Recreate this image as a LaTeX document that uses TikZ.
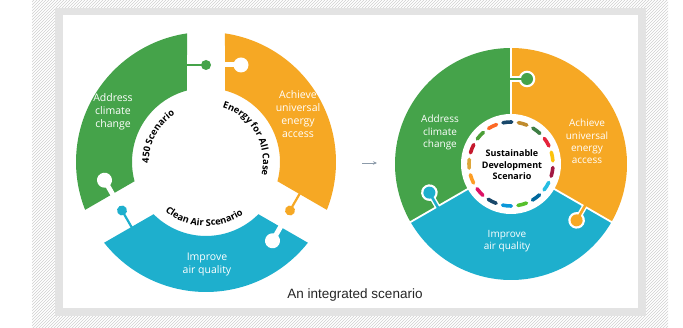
\documentclass[tikz,border=0pt]{standalone}
\usepackage{fontspec}
\setmainfont{Open Sans}
\newfontfamily\capfont{Liberation Sans}
\usetikzlibrary{patterns,decorations.text,arrows.meta}

\definecolor{goalgreen}{HTML}{45A34A}
\definecolor{goalorange}{HTML}{F6A824}
\definecolor{goalblue}{HTML}{1EAFCD}
\definecolor{framegray}{HTML}{E3E3E3}
\definecolor{hatchgray}{HTML}{CFCFCF}
\definecolor{arrowgray}{HTML}{8C9BAA}
% goal colours for the dashed ring
\definecolor{sdga}{HTML}{19486A}
\definecolor{sdgb}{HTML}{BF8B2E}
\definecolor{sdgc}{HTML}{3F7E44}
\definecolor{sdgd}{HTML}{E5243B}
\definecolor{sdge}{HTML}{FCC30B}
\definecolor{sdgf}{HTML}{A21942}
\definecolor{sdgg}{HTML}{26BDE2}
\definecolor{sdgh}{HTML}{00689D}
\definecolor{sdgi}{HTML}{56C02B}
\definecolor{sdgj}{HTML}{0A97D9}
\definecolor{sdgk}{HTML}{19486A}
\definecolor{sdgl}{HTML}{DD1367}
\definecolor{sdgm}{HTML}{FD9D24}
\definecolor{sdgn}{HTML}{DDA63A}
\definecolor{sdgo}{HTML}{C5192D}
\definecolor{sdgp}{HTML}{4C9F38}
\definecolor{sdgq}{HTML}{FD6925}

\newcommand{\curvefont}{\bfseries\fontsize{9.3}{9.3}\selectfont}

% left wheel: one piece between two gaps, and one gap with knob and notch
\newcommand{\leftpiece}[2]{%
  \begin{scope}[rotate=#1]
    \fill[#2] (98.4:130) arc[start angle=98.4, end angle=201.6, radius=130]
      -- (195.1:74) arc[start angle=195.1, end angle=104.9, radius=74] -- cycle;
  \end{scope}}
\newcommand{\leftjoint}[2]{%
  \begin{scope}[rotate=#1]
    \fill[white] (16,94.5) rectangle (35,99.5);
    \fill[white] (35,97) circle[radius=7.5];
    \draw[#2, line width=2.2] (-20,97) -- (0,97);
    \fill[#2] (0,97) circle[radius=5];
  \end{scope}}
% right wheel: sectors that lock together
\newcommand{\rightpiece}[2]{%
  \begin{scope}[rotate=#1]
    \fill[#2] (0,0) -- (90:116) arc[start angle=90, end angle=210, radius=116] -- cycle;
  \end{scope}}
\newcommand{\rightjoint}[2]{%
  \begin{scope}[rotate=#1]
    \fill[white] (16,85) circle[radius=8.3];
    \draw[white, line width=5.5] (0,85) -- (16,85);
    \draw[#2, line width=2.6] (-3,85) -- (16,85);
    \fill[#2] (16,85) circle[radius=6];
  \end{scope}}

\tikzset{
  goal/.style={text=white, align=center, inner sep=0pt, font=\fontsize{10.5}{13}\selectfont},
  smallgoal/.style={goal, font=\fontsize{10}{12.3}\selectfont},
}

\begin{document}
\begin{tikzpicture}[x=1pt,y=1pt]
\useasboundingbox (0,0) rectangle (683,328);

% frame
\fill[pattern=north east lines, pattern color=hatchgray] (32,0) rectangle (668,328);
\fill[framegray] (55,12) rectangle (646,320);
\fill[white] (63,20) rectangle (638,313);

% left wheel
\begin{scope}[shift={(206,166)}]
  \leftpiece{0}{goalgreen}
  \leftpiece{120}{goalblue}
  \leftpiece{240}{goalorange}
  \leftjoint{0}{goalgreen}
  \leftjoint{120}{goalblue}
  \leftjoint{240}{goalorange}
  \path[decorate, decoration={text along path, text align=center,
      text={|\curvefont|450 Scenario}}]
    (202:57) arc[start angle=202, end angle=102, radius=57];
  \path[decorate, decoration={text along path, text align=center,
      text={|\curvefont|Energy for All Case}}]
    (88:57) arc[start angle=88, end angle=-28, radius=57];
  \path[decorate, decoration={text along path, text align=center,
      text={|\curvefont|Clean Air Scenario}}]
    (212:64) arc[start angle=212, end angle=324, radius=64];
\end{scope}
\node[goal] (climate) at (113,216.5) {Address\\climate\\change};
\node[goal] (access) at (298,214) {Achieve\\universal\\energy\\access};
\node[goal] (airquality) at (207,63) {Improve\\air quality};

% arrow between the wheels
\coordinate (arrowtail) at (362,165);
\coordinate (arrowhead) at (377,165);
\draw[arrowgray, line width=0.9, -{Stealth[length=4pt,width=3.5pt]}] (arrowtail) -- (arrowhead);

% right wheel
\begin{scope}[shift={(511,164)}]
  \rightpiece{0}{goalgreen}
  \rightpiece{120}{goalblue}
  \rightpiece{240}{goalorange}
  \foreach \a in {90,210,330}
    \draw[white, line width=1.8] (0,0) -- (\a:117);
  \rightjoint{0}{goalgreen}
  \rightjoint{120}{goalblue}
  \rightjoint{240}{goalorange}
  \fill[white] (0,0) circle[radius=50];
  \foreach \c [count=\i from 0] in {sdga,sdgb,sdgc,sdgd,sdge,sdgf,sdgg,sdgh,sdgi,sdgj,sdgk,sdgl,sdgm,sdgn,sdgo,sdgp,sdgq}
    \draw[\c, line width=3.6, line cap=round]
      ({101-\i*360/17}:42) arc[start angle={101-\i*360/17}, end angle={89-\i*360/17}, radius=42];
  \node[align=center, inner sep=0pt, font=\bfseries\fontsize{9}{11.5}\selectfont] (sds) at (1,-1) {Sustainable\\Development\\Scenario};
\end{scope}
\node[smallgoal] (climate2) at (440,195.5) {Address\\climate\\change};
\node[smallgoal] (access2) at (587,186.5) {Achieve\\universal\\energy\\access};
\node[smallgoal] (airquality2) at (507,87) {Improve\\air quality};

% caption
\node[font=\capfont\fontsize{13.5}{16}\selectfont, text=black!85] (caption) at (355,33) {An integrated scenario};
\end{tikzpicture}
\end{document}
